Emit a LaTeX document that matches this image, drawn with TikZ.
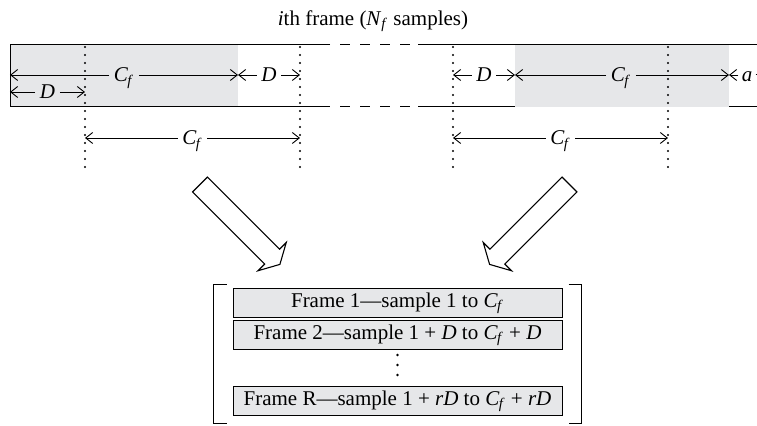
\documentclass[tikz,border=0pt]{standalone}
\usepackage{fontspec}
\setmainfont{Liberation Serif}
\usetikzlibrary{calc, arrows.meta, positioning}
\definecolor{frmgray}{RGB}{230,231,233}
\newcommand{\Cf}{\textit{C}\textsubscript{\kern-0.3pt\textit{f}}}
\tikzset{
  frm/line/.style={line width=0.5pt},
  frm/dash/.style={line width=0.5pt, dash pattern=on 5pt off 5pt},
  frm/dots/.style={line width=1.2pt, line cap=round, dash pattern=on 0pt off 4pt},
  frm/lbl/.style={inner xsep=2.2pt, inner ysep=0pt, text height=7pt, text depth=0pt},
  frm/dim/.style={-{Straight Barb[length=3.5pt,width=5.5pt]}, line width=0.45pt},
  frm/box/.style={draw, fill=frmgray, line width=0.5pt, minimum width=164.5pt, minimum height=14.5pt, inner sep=0pt},
  frm/big/.style={draw, line width=0.55pt, fill=white, line join=miter},
}

\begin{document}
\begin{tikzpicture}[x=0.5pt, y=-0.5pt, font=\fontsize{10.5}{12.6}\selectfont]
  \useasboundingbox (0,0) rectangle (757,426);

  \node (title) at (373,21) {\textit{i}th frame (\textit{N}\textsubscript{\textit{f}} samples)};

  % Rahmen (Streifen)
  \fill[frmgray] (10,45) rectangle (238,107);
  \fill[frmgray] (515,45) rectangle (729,107);
  \draw[frm/line] (330,45) -- (10,45) -- (10,107) -- (330,107);
  \draw[frm/dash] (340,45) -- (410,45);
  \draw[frm/dash] (340,107) -- (410,107);
  \draw[frm/line] (418,45) -- (770,45);
  \draw[frm/line] (418,107) -- (515,107);
  \draw[frm/line] (729,107) -- (770,107);

  % Markierungen
  \coordinate (s0) at (10,45);
  \coordinate (g1) at (238,45);
  \coordinate (g2) at (515,45);
  \coordinate (g3) at (729,45);
  \coordinate (e) at (770,45);
  \foreach \n/\x in {v1/85, v2/300, v3/453, v4/668} {
    \coordinate (\n) at (\x,47);
    \draw[frm/dots] (\n) -- ++(0,121);
  }

  % Links
  \node[frm/lbl] (cf1) at (124,75) {\Cf};
  \draw[frm/dim] (cf1.west) -- (cf1 -| s0);
  \draw[frm/dim] (cf1.east) -- (cf1 -| g1);
  \node[frm/lbl] (d1) at (269,75) {\textit{D}};
  \draw[frm/dim] (d1.west) -- (d1 -| g1);
  \draw[frm/dim] (d1.east) -- (d1 -| v2);
  \node[frm/lbl] (d2) at (47.5,92) {\textit{D}};
  \draw[frm/dim] (d2.west) -- (d2 -| s0);
  \draw[frm/dim] (d2.east) -- (d2 -| v1);
  \node[frm/lbl] (cf2) at (192.5,138) {\Cf};
  \draw[frm/dim] (cf2.west) -- (cf2 -| v1);
  \draw[frm/dim] (cf2.east) -- (cf2 -| v2);

  % Rechts
  \node[frm/lbl] (d3) at (484,75) {\textit{D}};
  \draw[frm/dim] (d3.west) -- (d3 -| v3);
  \draw[frm/dim] (d3.east) -- (d3 -| g2);
  \node[frm/lbl] (cf3) at (621,75) {\Cf};
  \draw[frm/dim] (cf3.west) -- (cf3 -| g2);
  \draw[frm/dim] (cf3.east) -- (cf3 -| g3);
  \node[frm/lbl, inner xsep=1.5pt] (a1) at (747,75) {\textit{a}};
  \draw[frm/dim] (a1.west) -- (a1 -| g3);
  \draw[frm/line] (a1.east) -- (a1 -| e);
  \node[frm/lbl] (cf4) at (560.5,138) {\Cf};
  \draw[frm/dim] (cf4.west) -- (cf4 -| v3);
  \draw[frm/dim] (cf4.east) -- (cf4 -| v4);

  % Blockpfeile
  \foreach \sx/\ang in {200/-45, 569.5/-135} {
    \draw[frm/big, shift={(\sx,184.5)}, rotate=\ang]
      (0,10.5) -- (102,10.5) -- (102,20) -- (113,0) -- (102,-20) -- (102,-10.5) -- (0,-10.5) -- cycle;
  }

  % Teilrahmen
  \node[frm/box] (f1) at (397.5,303.5) {Frame 1---sample 1 to \Cf};
  \node[frm/box, below=1pt of f1] (f2) {Frame 2---sample 1 + \textit{D} to \Cf{} + \textit{D}};
  \node[frm/box, below=18pt of f2] (fr) {Frame R---sample 1 + \textit{rD} to \Cf{} + \textit{rD}};
  \foreach \y in {355,365,375}
    \fill (397.5,\y) circle (0.7pt);

  \draw[frm/line] ($(f1.north west)+(-6,-4)$) -- ($(f1.north west)+(-19,-4)$)
    -- ($(fr.south west)+(-19,7)$) -- ($(fr.south west)+(-6,7)$);
  \draw[frm/line] ($(f1.north east)+(6,-4)$) -- ($(f1.north east)+(19,-4)$)
    -- ($(fr.south east)+(19,7)$) -- ($(fr.south east)+(6,7)$);

\end{tikzpicture}
\end{document}
